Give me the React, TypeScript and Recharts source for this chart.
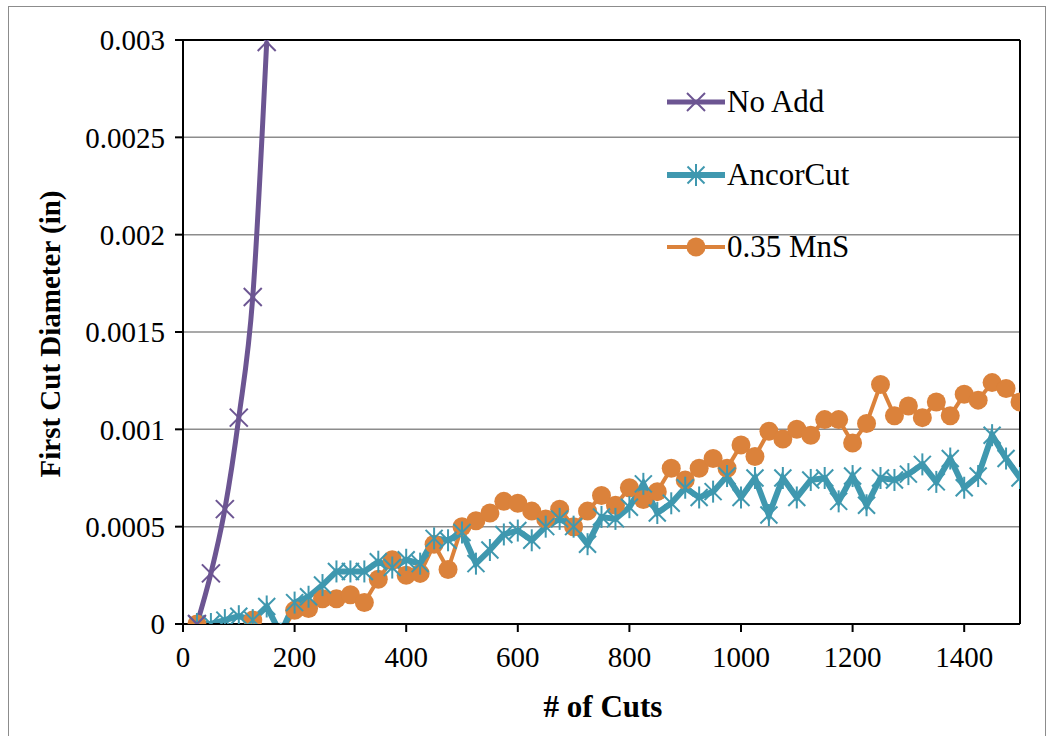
import React from "react"
import { LineChart, Line, XAxis, YAxis, CartesianGrid, ReferenceLine } from "recharts"

const cuts = [
  25, 50, 75, 100, 125, 150, 175, 200, 225, 250, 275, 300, 325, 350, 375, 400, 425, 450, 475, 500,
  525, 550, 575, 600, 625, 650, 675, 700, 725, 750, 775, 800, 825, 850, 875, 900, 925, 950, 975, 1000,
  1025, 1050, 1075, 1100, 1125, 1150, 1175, 1200, 1225, 1250, 1275, 1300, 1325, 1350, 1375, 1400, 1425, 1450, 1475, 1500,
]

const noAddCuts = [25, 50, 75, 100, 125, 150]
const noAdd = [0, 0.00026, 0.00059, 0.00106, 0.00168, 0.00299]

const ancorCut = [
  0, 0, 0.00002, 0.00004, 0.00002, 0.00009, -0.00005, 0.00011, 0.00014, 0.0002,
  0.00027, 0.00027, 0.00027, 0.00032, 0.00029, 0.00033, 0.00031, 0.00044, 0.00043, 0.00047,
  0.00031, 0.00038, 0.00046, 0.00048, 0.00043, 0.0005, 0.00054, 0.0005, 0.00041, 0.00055,
  0.00054, 0.0006, 0.00072, 0.00057, 0.00062, 0.0007, 0.00065, 0.00068, 0.00076, 0.00065,
  0.00075, 0.00056, 0.00075, 0.00065, 0.00074, 0.00075, 0.00063, 0.00076, 0.00061, 0.00075,
  0.00074, 0.00077, 0.00082, 0.00073, 0.00085, 0.0007, 0.00076, 0.00097, 0.00085, 0.00075,
]

const mns = [
  0, -0.00005, -0.00005, -0.00005, 0.00002, -0.00005, -0.00005, 0.00007, 0.00008, 0.00013,
  0.00013, 0.00015, 0.00011, 0.00023, 0.00033, 0.00025, 0.00026, 0.00041, 0.00028, 0.0005,
  0.00053, 0.00057, 0.00063, 0.00062, 0.00058, 0.00054, 0.00059, 0.0005, 0.00058, 0.00066,
  0.00061, 0.0007, 0.00064, 0.00068, 0.0008, 0.00074, 0.0008, 0.00085, 0.0008, 0.00092,
  0.00086, 0.00099, 0.00095, 0.001, 0.00097, 0.00105, 0.00105, 0.00093, 0.00103, 0.00123,
  0.00107, 0.00112, 0.00106, 0.00114, 0.00107, 0.00118, 0.00115, 0.00124, 0.00121, 0.00114,
]

const xTicks = [0, 200, 400, 600, 800, 1000, 1200, 1400]
const yTicks = [0, 0.0005, 0.001, 0.0015, 0.002, 0.0025, 0.003]

const PURPLE = "#6c5592"
const TEAL = "#3f98af"
const ORANGE = "#db823b"
const FONT = '"Liberation Serif", "Times New Roman", serif'

const noAddData = noAddCuts.map((x, i) => ({ x, y: noAdd[i] }))
const ancorData = cuts.map((x, i) => ({ x, y: ancorCut[i] }))
const mnsData = cuts.map((x, i) => ({ x, y: mns[i] }))

function CrossDot(props: any) {
  const { cx, cy } = props
  if (cx == null || cy == null) return null
  const s = 9
  return (
    <g stroke={PURPLE} strokeWidth={2}>
      <line x1={cx - s} y1={cy - s} x2={cx + s} y2={cy + s} />
      <line x1={cx - s} y1={cy + s} x2={cx + s} y2={cy - s} />
    </g>
  )
}

function StarDot(props: any) {
  const { cx, cy } = props
  if (cx == null || cy == null) return null
  const s = 8.5
  return (
    <g stroke={TEAL} strokeWidth={2}>
      <line x1={cx - s} y1={cy - s} x2={cx + s} y2={cy + s} />
      <line x1={cx - s} y1={cy + s} x2={cx + s} y2={cy - s} />
      <line x1={cx} y1={cy - 11} x2={cx} y2={cy + 11} />
    </g>
  )
}

function CircleDot(props: any) {
  const { cx, cy } = props
  if (cx == null || cy == null) return null
  return <circle cx={cx} cy={cy} r={9.5} fill={ORANGE} />
}

const fmt = (v: number) => (v === 0 ? "0" : String(v))

const legendItems = [
  { name: "No Add", color: PURPLE, Dot: CrossDot, width: 5 },
  { name: "AncorCut", color: TEAL, Dot: StarDot, width: 6 },
  { name: "0.35 MnS", color: ORANGE, Dot: CircleDot, width: 4 },
]

export default function App() {
  return (
    <div
      style={{
        position: "fixed",
        left: 8,
        top: 6,
        width: 1036,
        height: 760,
        border: "1px solid #8c8c8c",
        background: "#fff",
        fontFamily: FONT,
      }}
    >
      <div style={{ position: "absolute", left: -1, top: 1 }}>
        <LineChart width={1045} height={728} margin={{ top: 32, right: 33, bottom: 52, left: 20 }}>
          <CartesianGrid horizontal vertical={false} stroke="#8c8c8c" strokeWidth={1.5} />
          <XAxis
            dataKey="x"
            type="number"
            domain={[0, 1500]}
            ticks={xTicks}
            allowDataOverflow
            height={60}
            stroke="#000"
            strokeWidth={2}
            tickSize={8}
            tickMargin={14}
            tick={{ fill: "#000", fontSize: 29, fontFamily: FONT }}
          />
          <YAxis
            type="number"
            domain={[0, 0.003]}
            ticks={yTicks}
            allowDataOverflow
            width={155}
            stroke="#000"
            strokeWidth={2}
            tickSize={8}
            tickMargin={10}
            tickFormatter={fmt}
            tick={{ fill: "#000", fontSize: 29, fontFamily: FONT }}
          />
          <ReferenceLine y={0.003} stroke="#000" strokeWidth={2} />
          <ReferenceLine x={1500} stroke="#000" strokeWidth={2} />
          <Line
            data={mnsData}
            dataKey="y"
            type="linear"
            stroke={ORANGE}
            strokeWidth={4}
            dot={<CircleDot />}
            activeDot={false}
            isAnimationActive={false}
          />
          <Line
            data={ancorData}
            dataKey="y"
            type="linear"
            stroke={TEAL}
            strokeWidth={6}
            dot={<StarDot />}
            activeDot={false}
            isAnimationActive={false}
          />
          <Line
            data={noAddData}
            dataKey="y"
            type="monotone"
            stroke={PURPLE}
            strokeWidth={5}
            dot={<CrossDot />}
            activeDot={false}
            isAnimationActive={false}
          />
        </LineChart>
      </div>

      <div
        style={{
          position: "absolute",
          left: 41,
          top: 327,
          transform: "translate(-50%, -50%) rotate(-90deg)",
          whiteSpace: "nowrap",
          fontWeight: "bold",
          fontSize: 29,
        }}
      >
        First Cut Diameter (in)
      </div>
      <div
        style={{
          position: "absolute",
          left: 594,
          top: 700,
          transform: "translate(-50%, -50%)",
          whiteSpace: "nowrap",
          fontWeight: "bold",
          fontSize: 31,
        }}
      >
        # of Cuts
      </div>

      <div style={{ position: "absolute", left: 658, top: 59 }}>
        {legendItems.map((it) => (
          <div key={it.name} style={{ display: "flex", alignItems: "center", height: 72.5 }}>
            <svg width={58} height={26} style={{ display: "block" }}>
              <line x1={0} y1={13} x2={58} y2={13} stroke={it.color} strokeWidth={it.width} strokeLinecap="round" />
              <it.Dot cx={29} cy={13} />
            </svg>
            <span style={{ fontSize: 31, marginLeft: 2 }}>{it.name}</span>
          </div>
        ))}
      </div>
    </div>
  )
}
